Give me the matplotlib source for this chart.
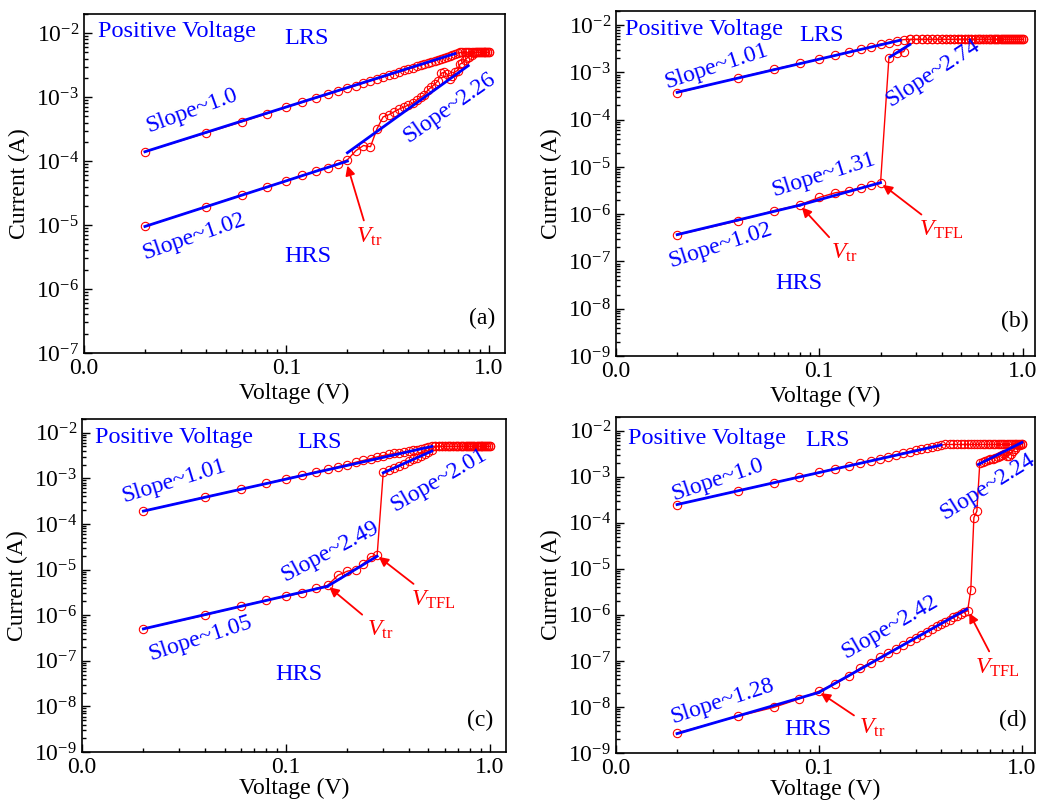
import numpy as np
import matplotlib
matplotlib.use("Agg")
import matplotlib.pyplot as plt
from matplotlib.ticker import LogLocator, FixedLocator, NullFormatter

plt.rcParams['font.family'] = ['Liberation Serif', 'DejaVu Serif']
plt.rcParams['mathtext.fontset'] = 'custom'
plt.rcParams['mathtext.rm'] = 'Liberation Serif'
plt.rcParams['mathtext.it'] = 'Liberation Serif:italic'
plt.rcParams['mathtext.bf'] = 'Liberation Serif:bold'

# sweep voltages (V)
volt = [0.02, 0.04, 0.06, 0.08, 0.10, 0.12, 0.14, 0.16, 0.18, 0.20,
        0.22, 0.24, 0.26, 0.28, 0.30, 0.32, 0.34, 0.36, 0.38, 0.40,
        0.42, 0.44, 0.46, 0.48, 0.50, 0.52, 0.54, 0.56, 0.58, 0.60,
        0.62, 0.64, 0.66, 0.68, 0.70, 0.72, 0.74, 0.76, 0.78, 0.80,
        0.82, 0.84, 0.86, 0.88, 0.90, 0.92, 0.94, 0.96, 0.98, 1.00]

# (a) forward sweep from HRS, and the LRS return sweep (A)
hrs_a = [9.5e-6, 1.93e-5, 2.95e-5, 3.9e-5, 4.9e-5, 6.0e-5, 7.0e-5, 7.9e-5, 9.1e-5, 1.05e-4,
         1.45e-4, 1.75e-4, 1.68e-4, 3.2e-4, 4.9e-4, 5.3e-4, 5.9e-4, 6.5e-4, 7.0e-4, 7.5e-4,
         8.0e-4, 9.0e-4, 1.0e-3, 1.08e-3, 1.3e-3, 1.43e-3, 1.6e-3, 1.8e-3, 2.35e-3, 2.45e-3,
         2.3e-3, 1.9e-3, 2.15e-3, 2.5e-3, 2.6e-3, 3.3e-3, 3.4e-3, 3.8e-3, 4.1e-3, 4.3e-3,
         4.6e-3, 4.85e-3, 5.0e-3, 5.0e-3, 5.0e-3, 5.0e-3, 5.0e-3, 5.0e-3, 5.0e-3, 5.0e-3]
lrs_a = [1.4e-4, 2.75e-4, 4.1e-4, 5.5e-4, 7.0e-4, 8.3e-4, 9.7e-4, 1.1e-3, 1.25e-3, 1.38e-3,
         1.52e-3, 1.66e-3, 1.8e-3, 1.93e-3, 2.07e-3, 2.2e-3, 2.34e-3, 2.48e-3, 2.62e-3, 2.76e-3,
         2.9e-3, 3.03e-3, 3.17e-3, 3.3e-3, 3.45e-3, 3.58e-3, 3.72e-3, 3.86e-3, 4.0e-3, 4.15e-3,
         4.3e-3, 4.45e-3, 4.6e-3, 4.75e-3, 4.9e-3, 5.0e-3, 5.0e-3, 5.0e-3, 5.0e-3, 5.0e-3,
         5.0e-3, 5.0e-3, 5.0e-3, 5.0e-3, 5.0e-3, 5.0e-3, 5.0e-3, 5.0e-3, 5.0e-3, 5.0e-3]

# (b)
hrs_b = [3.65e-7, 7.3e-7, 1.19e-6, 1.57e-6, 2.27e-6, 2.85e-6, 3.15e-6, 3.6e-6, 4.1e-6, 4.5e-6,
         2.07e-3, 2.6e-3, 2.75e-3, 5.0e-3, 5.0e-3, 5.0e-3, 5.0e-3, 5.0e-3, 5.0e-3, 5.0e-3,
         5.0e-3, 5.0e-3, 5.0e-3, 5.0e-3, 5.0e-3, 5.0e-3, 5.0e-3, 5.0e-3, 5.0e-3, 5.0e-3,
         5.0e-3, 5.0e-3, 5.0e-3, 5.0e-3, 5.0e-3, 5.0e-3, 5.0e-3, 5.0e-3, 5.0e-3, 5.0e-3,
         5.0e-3, 5.0e-3, 5.0e-3, 5.0e-3, 5.0e-3, 5.0e-3, 5.0e-3, 5.0e-3, 5.0e-3, 5.0e-3]
lrs_b = [3.7e-4, 7.7e-4, 1.17e-3, 1.55e-3, 1.9e-3, 2.3e-3, 2.73e-3, 3.06e-3, 3.5e-3, 3.95e-3,
         4.3e-3, 4.7e-3, 4.95e-3, 5.0e-3, 5.0e-3, 5.0e-3, 5.0e-3, 5.0e-3, 5.0e-3, 5.0e-3,
         5.0e-3, 5.0e-3, 5.0e-3, 5.0e-3, 5.0e-3, 5.0e-3, 5.0e-3, 5.0e-3, 5.0e-3, 5.0e-3,
         5.0e-3, 5.0e-3, 5.0e-3, 5.0e-3, 5.0e-3, 5.0e-3, 5.0e-3, 5.0e-3, 5.0e-3, 5.0e-3,
         5.0e-3, 5.0e-3, 5.0e-3, 5.0e-3, 5.0e-3, 5.0e-3, 5.0e-3, 5.0e-3, 5.0e-3, 5.0e-3]

# (c)
hrs_c = [5.0e-7, 1.0e-6, 1.57e-6, 2.13e-6, 2.6e-6, 3.08e-6, 3.84e-6, 4.5e-6, 7.5e-6, 9.2e-6,
         1.0e-5, 1.35e-5, 1.9e-5, 2.04e-5, 1.35e-3, 1.5e-3, 1.7e-3, 1.9e-3, 2.1e-3, 2.35e-3,
         2.6e-3, 2.85e-3, 3.15e-3, 3.45e-3, 3.8e-3, 4.2e-3, 5.0e-3, 5.0e-3, 5.0e-3, 5.0e-3,
         5.0e-3, 5.0e-3, 5.0e-3, 5.0e-3, 5.0e-3, 5.0e-3, 5.0e-3, 5.0e-3, 5.0e-3, 5.0e-3,
         5.0e-3, 5.0e-3, 5.0e-3, 5.0e-3, 5.0e-3, 5.0e-3, 5.0e-3, 5.0e-3, 5.0e-3, 5.0e-3]
lrs_c = [1.91e-4, 3.87e-4, 5.7e-4, 7.7e-4, 9.8e-4, 1.16e-3, 1.39e-3, 1.57e-3, 1.8e-3, 2.0e-3,
         2.25e-3, 2.47e-3, 2.7e-3, 2.95e-3, 3.15e-3, 3.35e-3, 3.5e-3, 3.65e-3, 3.8e-3, 3.95e-3,
         4.1e-3, 4.25e-3, 4.45e-3, 4.65e-3, 4.85e-3, 5.0e-3, 5.0e-3, 5.0e-3, 5.0e-3, 5.0e-3,
         5.0e-3, 5.0e-3, 5.0e-3, 5.0e-3, 5.0e-3, 5.0e-3, 5.0e-3, 5.0e-3, 5.0e-3, 5.0e-3,
         5.0e-3, 5.0e-3, 5.0e-3, 5.0e-3, 5.0e-3, 5.0e-3, 5.0e-3, 5.0e-3, 5.0e-3, 5.0e-3]

# (d)
hrs_d = [2.7e-9, 6.3e-9, 9.8e-9, 1.5e-8, 2.2e-8, 3.2e-8, 4.6e-8, 7.0e-8, 9.2e-8, 1.2e-7,
         1.5e-7, 1.85e-7, 2.25e-7, 2.7e-7, 3.2e-7, 3.7e-7, 4.3e-7, 4.9e-7, 5.6e-7, 6.3e-7,
         7.1e-7, 7.9e-7, 8.8e-7, 9.7e-7, 1.06e-6, 1.15e-6, 1.22e-6, 3.5e-6, 1.3e-4, 1.8e-4,
         1.95e-3, 2.1e-3, 2.2e-3, 2.3e-3, 2.4e-3, 2.5e-3, 2.6e-3, 2.7e-3, 2.85e-3, 3.0e-3,
         3.1e-3, 2.8e-3, 2.9e-3, 3.2e-3, 3.6e-3, 4.0e-3, 4.4e-3, 4.8e-3, 5.0e-3, 5.2e-3]
lrs_d = [2.5e-4, 5.0e-4, 7.45e-4, 1.0e-3, 1.25e-3, 1.5e-3, 1.74e-3, 2.0e-3, 2.23e-3, 2.47e-3,
         2.73e-3, 3.0e-3, 3.3e-3, 3.55e-3, 3.8e-3, 4.0e-3, 4.25e-3, 4.5e-3, 4.7e-3, 4.9e-3,
         5.05e-3, 5.05e-3, 5.05e-3, 5.05e-3, 5.05e-3, 5.05e-3, 5.05e-3, 5.05e-3, 5.05e-3, 5.05e-3,
         5.05e-3, 5.05e-3, 5.05e-3, 5.05e-3, 5.05e-3, 5.05e-3, 5.05e-3, 5.05e-3, 5.05e-3, 5.05e-3,
         5.05e-3, 5.05e-3, 5.05e-3, 5.05e-3, 5.05e-3, 5.05e-3, 5.05e-3, 5.05e-3, 5.05e-3, 5.05e-3]

# fitted segments: [v_start, v_end], [i_start, i_end]
fit_a_v = [[0.02, 0.68], [0.02, 0.20], [0.20, 0.79]]
fit_a_i = [[1.4e-4, 4.8e-3], [9.5e-6, 1.0e-4], [1.35e-4, 3.1e-3]]
fit_b_v = [[0.02, 0.25], [0.02, 0.08], [0.08, 0.20], [0.223, 0.279]]
fit_b_i = [[3.8e-4, 4.8e-3], [3.7e-7, 1.55e-6], [1.55e-6, 4.65e-6], [2.14e-3, 3.9e-3]]
fit_c_v = [[0.02, 0.52], [0.02, 0.16], [0.16, 0.28], [0.30, 0.52]]
fit_c_i = [[1.91e-4, 5.0e-3], [5.0e-7, 4.3e-6], [4.3e-6, 1.96e-5], [1.32e-3, 3.96e-3]]
fit_d_v = [[0.02, 0.40], [0.02, 0.10], [0.10, 0.535], [0.61, 1.0]]
fit_d_i = [[2.5e-4, 4.9e-3], [2.63e-9, 2.07e-8], [2.07e-8, 1.33e-6], [1.86e-3, 5.58e-3]]

BLUE = '#0000ff'
RED = '#ff0000'
FS = 17

fig = plt.figure(figsize=(10.38, 8.0), dpi=100)


def panel(rect, hrs, lrs, fit_v, fit_i, ybot, xtop, tag, tag_xy, texts, arrows, xpad):
    ax = fig.add_axes(rect)
    ax.plot(volt, hrs, 'o-', color=RED, mfc='none', mec=RED, ms=6, mew=0.8, lw=1)
    ax.plot(volt, lrs, 'o-', color=RED, mfc='none', mec=RED, ms=6, mew=0.8, lw=1)
    for v, i in zip(fit_v, fit_i):
        ax.plot(v, i, color=BLUE, lw=2, zorder=5)
    ax.set_xscale('log')
    ax.set_yscale('log')
    ax.set_xlim(0.01, xtop)
    ax.set_ylim(ybot, 2e-2)
    ax.xaxis.set_major_locator(FixedLocator([0.01, 0.1, 1.0]))
    ax.set_xticklabels(['0.0', '0.1', '1.0'])
    ax.xaxis.set_minor_locator(LogLocator(base=10, subs=np.arange(2, 10), numticks=20))
    ax.xaxis.set_minor_formatter(NullFormatter())
    ax.yaxis.set_major_locator(LogLocator(base=10, numticks=20))
    ax.yaxis.set_minor_locator(LogLocator(base=10, subs=np.arange(2, 10), numticks=20))
    ax.yaxis.set_minor_formatter(NullFormatter())
    ax.tick_params(which='both', direction='in', top=False, right=False, labelsize=FS, width=1)
    ax.tick_params(which='major', length=6)
    ax.tick_params(which='minor', length=3)
    for s in ax.spines.values():
        s.set_linewidth(1.2)
    ax.set_xlabel('Voltage (V)', fontsize=FS, labelpad=xpad)
    ax.set_ylabel('Current (A)', fontsize=FS, labelpad=4)

    for txt, x, y, rot, size in texts:
        ha = 'left' if txt == 'Positive Voltage' else 'center'
        ax.text(x, y, txt, color=BLUE, fontsize=size, rotation=rot,
                ha=ha, va='center', rotation_mode='anchor', zorder=6)
    for txt, x, y, hx, hy in arrows:
        ax.annotate(txt, xy=(hx, hy), xytext=(x, y), color=RED, fontsize=FS,
                    ha='center', va='center',
                    arrowprops=dict(arrowstyle='-|>', color=RED, lw=1.3,
                                    mutation_scale=14, shrinkA=2, shrinkB=0))
    ax.text(tag_xy[0], tag_xy[1], tag, fontsize=FS, ha='center', va='center')
    return ax


ax_a = panel([0.0809, 0.5588, 0.4056, 0.4238], hrs_a, lrs_a, fit_a_v, fit_a_i, 1e-7, 1.2,
             '(a)', (0.93, 3.5e-7),
             [('Positive Voltage', 0.0117, 1.05e-2, 0, 17.5),
              ('LRS', 0.125, 8.4e-3, 0, 17.5),
              ('Slope~1.0', 0.034, 6.1e-4, 20, 17),
              ('Slope~1.02', 0.035, 6.5e-6, 19, 17),
              ('HRS', 0.128, 3.2e-6, 0, 17.5),
              ('Slope~2.26', 0.635, 6.8e-4, 35, 17)],
             [(r'$V_{\mathrm{tr}}$', 0.255, 6.5e-6, 0.2, 8.5e-5)], 3)

ax_b = panel([0.5934, 0.555, 0.4037, 0.4313], hrs_b, lrs_b, fit_b_v, fit_b_i, 1e-9, 1.15,
             '(b)', (0.914, 5.3e-9),
             [('Positive Voltage', 0.0111, 8.2e-3, 0, 17.5),
              ('LRS', 0.103, 6.1e-3, 0, 17.5),
              ('Slope~1.01', 0.0312, 1.36e-3, 18, 17),
              ('Slope~2.74', 0.363, 1.0e-3, 33, 17),
              ('Slope~1.31', 0.105, 6.7e-6, 17.5, 17),
              ('Slope~1.02', 0.0326, 2.2e-7, 18, 17),
              ('HRS', 0.079, 3.5e-8, 0, 17.5)],
             [(r'$V_{\mathrm{tr}}$', 0.132, 1.5e-7, 0.082, 1.4e-6),
              (r'$V_{\mathrm{TFL}}$', 0.40, 4.6e-7, 0.205, 4.2e-6)], 3)

ax_c = panel([0.079, 0.06, 0.4085, 0.4163], hrs_c, lrs_c, fit_c_v, fit_c_i, 1e-9, 1.2,
             '(c)', (0.9, 4.9e-9),
             [('Positive Voltage', 0.0116, 7.9e-3, 0, 17.5),
              ('LRS', 0.146, 6.1e-3, 0, 17.5),
              ('Slope~1.01', 0.0283, 8.5e-4, 17, 17),
              ('Slope~2.01', 0.56, 9.4e-4, 30, 17),
              ('Slope~2.49', 0.165, 2.5e-5, 28, 17),
              ('Slope~1.05', 0.038, 3.06e-7, 18, 17),
              ('HRS', 0.116, 5.0e-8, 0, 17.5)],
             [(r'$V_{\mathrm{tr}}$', 0.29, 4.8e-7, 0.163, 4.1e-6),
              (r'$V_{\mathrm{TFL}}$', 0.53, 2.2e-6, 0.285, 1.9e-5)], 0)

ax_d = panel([0.5934, 0.0588, 0.4037, 0.42], hrs_d, lrs_d, fit_d_v, fit_d_i, 1e-9, 1.16,
             '(d)', (0.907, 5.0e-9),
             [('Positive Voltage', 0.01146, 6.95e-3, 0, 17.5),
              ('LRS', 0.11, 6.3e-3, 0, 17.5),
              ('Slope~1.0', 0.0318, 8.5e-4, 18.5, 17),
              ('Slope~2.24', 0.675, 6.3e-4, 32, 17),
              ('Slope~2.42', 0.224, 5.5e-7, 30, 17),
              ('Slope~1.28', 0.0333, 1.3e-8, 18, 17),
              ('HRS', 0.0885, 3.2e-9, 0, 17.5)],
             [(r'$V_{\mathrm{tr}}$', 0.183, 3.55e-9, 0.102, 2.0e-8),
              (r'$V_{\mathrm{TFL}}$', 0.76, 7.1e-8, 0.55, 1.1e-6)], 0)

fig.savefig('out.png', dpi=100)
